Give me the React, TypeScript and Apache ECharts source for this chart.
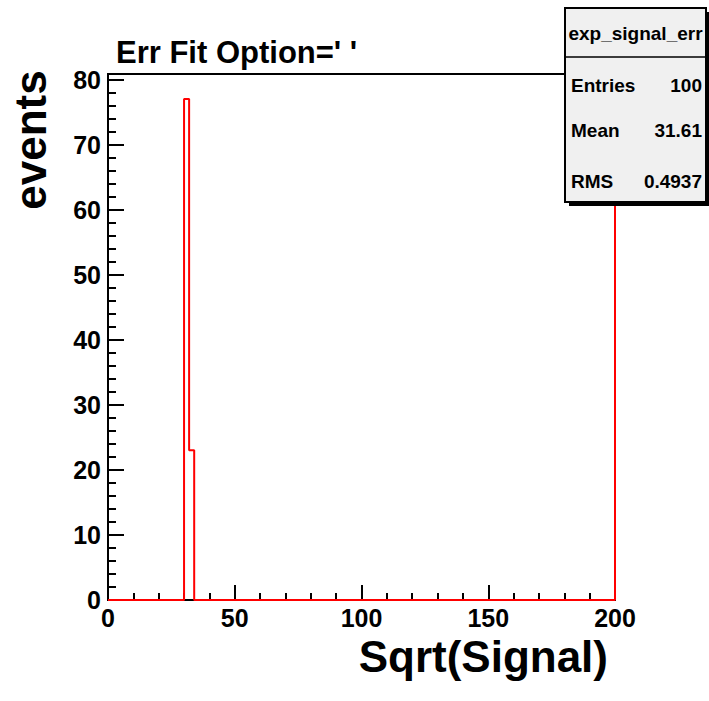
import React, { useEffect, useRef } from "react";
import * as echarts from "echarts";

const xMin = 0;
const xMax = 200;
const yMax = 80.85;
const binWidth = 2;
const binLowEdges = [30, 32];
const binCounts = [77, 23];
const xTicks = [0, 50, 100, 150, 200];
const yTicks = [0, 10, 20, 30, 40, 50, 60, 70, 80];
const statLabels = ["Entries", "Mean", "RMS"];
const statValues = ["100", "31.61", "0.4937"];
const histName = "exp_signal_err";
const titleText = "Err Fit Option=' '";
const xTitle = "Sqrt(Signal)";
const yTitle = "events";

const FONT = "Liberation Sans, Arial, Helvetica, sans-serif";

function buildOutline(): number[][] {
  const pts: number[][] = [[xMin, 0]];
  let prev = 0;
  binLowEdges.forEach((lo, i) => {
    const c = binCounts[i];
    if (pts[pts.length - 1][0] !== lo || prev !== 0) {
      pts.push([lo, prev]);
    }
    pts.push([lo, c]);
    pts.push([lo + binWidth, c]);
    prev = c;
  });
  const last = binLowEdges[binLowEdges.length - 1] + binWidth;
  pts.push([last, 0]);
  pts.push([xMax, 0]);
  pts.push([xMax, yMax]);
  return pts;
}

export default function App() {
  const ref = useRef<HTMLDivElement>(null);
  useEffect(() => {
    if (!ref.current) return;
    const chart = echarts.init(ref.current, undefined, { renderer: "svg" });
    const boxX = 565, boxY = 8, boxW = 141, boxH = 194;
    const rowYs = [85, 130, 181];
    chart.setOption({
      animation: false,
      backgroundColor: "#ffffff",
      grid: {
        left: 108,
        top: 74,
        right: 94,
        bottom: 101,
        show: true,
        borderColor: "#000",
        borderWidth: 2,
        backgroundColor: "transparent",
        outerBoundsMode: "none",
        containLabel: false,
      },
      xAxis: {
        type: "value",
        min: xMin,
        max: xMax,
        interval: 50,
        axisLine: { show: true, lineStyle: { color: "#000", width: 2 } },
        axisTick: { show: true, inside: true, length: 15, lineStyle: { color: "#000", width: 2 } },
        minorTick: { show: true, splitNumber: 5, length: 7, lineStyle: { color: "#000", width: 2 } },
        splitLine: { show: false },
        axisLabel: {
          show: true,
          color: "#000",
          fontFamily: FONT,
          fontWeight: "bold",
          fontSize: 25,
          margin: 5,
          formatter: (v: number) => (xTicks.includes(v) ? String(v) : ""),
        },
      },
      yAxis: {
        type: "value",
        min: 0,
        max: yMax,
        interval: 10,
        axisLine: { show: true, lineStyle: { color: "#000", width: 2 } },
        axisTick: { show: true, inside: true, length: 16, lineStyle: { color: "#000", width: 2 } },
        minorTick: { show: true, splitNumber: 5, length: 8, lineStyle: { color: "#000", width: 2 } },
        splitLine: { show: false },
        axisLabel: {
          show: true,
          color: "#000",
          fontFamily: FONT,
          fontWeight: "bold",
          fontSize: 25,
          margin: 7,
          formatter: (v: number) => (yTicks.includes(v) ? String(v) : ""),
        },
      },
      series: [
        {
          type: "line",
          data: buildOutline(),
          showSymbol: false,
          symbol: "none",
          clip: true,
          lineStyle: { color: "#ff0000", width: 2 },
          z: 5,
        },
      ],
      graphic: [
        {
          type: "text",
          x: 116,
          y: 52,
          style: {
            text: titleText,
            fill: "#000",
            font: `bold 31px ${FONT}`,
            align: "left",
            verticalAlign: "middle",
          },
        },
        {
          type: "text",
          x: 30,
          y: 140,
          rotation: Math.PI / 2,
          style: {
            text: yTitle,
            fill: "#000",
            font: `bold 44px ${FONT}`,
            align: "center",
            verticalAlign: "middle",
          },
        },
        {
          type: "text",
          x: 608,
          y: 656,
          style: {
            text: xTitle,
            fill: "#000",
            font: `bold 44px ${FONT}`,
            align: "right",
            verticalAlign: "middle",
          },
        },
        {
          type: "rect",
          shape: { x: boxX + 4, y: boxY + 4, width: boxW, height: boxH },
          style: { fill: "#000" },
          z: 10,
        },
        {
          type: "rect",
          shape: { x: boxX, y: boxY, width: boxW, height: boxH },
          style: { fill: "#f0f0f0", stroke: "#000", lineWidth: 2 },
          z: 11,
        },
        {
          type: "line",
          shape: { x1: boxX, y1: 57, x2: boxX + boxW, y2: 57 },
          style: { stroke: "#000", lineWidth: 1.5 },
          z: 12,
        },
        {
          type: "text",
          x: boxX + boxW / 2,
          y: 33,
          z: 12,
          style: {
            text: histName,
            fill: "#000",
            font: `bold 19px ${FONT}`,
            align: "center",
            verticalAlign: "middle",
          },
        },
        ...statLabels.map((lab, i) => ({
          type: "text",
          x: boxX + 6,
          y: rowYs[i],
          z: 12,
          style: { text: lab, fill: "#000", font: `bold 19px ${FONT}`, align: "left", verticalAlign: "middle" },
        })),
        ...statValues.map((val, i) => ({
          type: "text",
          x: boxX + boxW - 4,
          y: rowYs[i],
          z: 12,
          style: { text: val, fill: "#000", font: `bold 19px ${FONT}`, align: "right", verticalAlign: "middle" },
        })),
      ],
    });
    return () => chart.dispose();
  }, []);
  return <div ref={ref} style={{ width: 709, height: 701, position: "absolute", left: 0, top: 0 }} />;
}
